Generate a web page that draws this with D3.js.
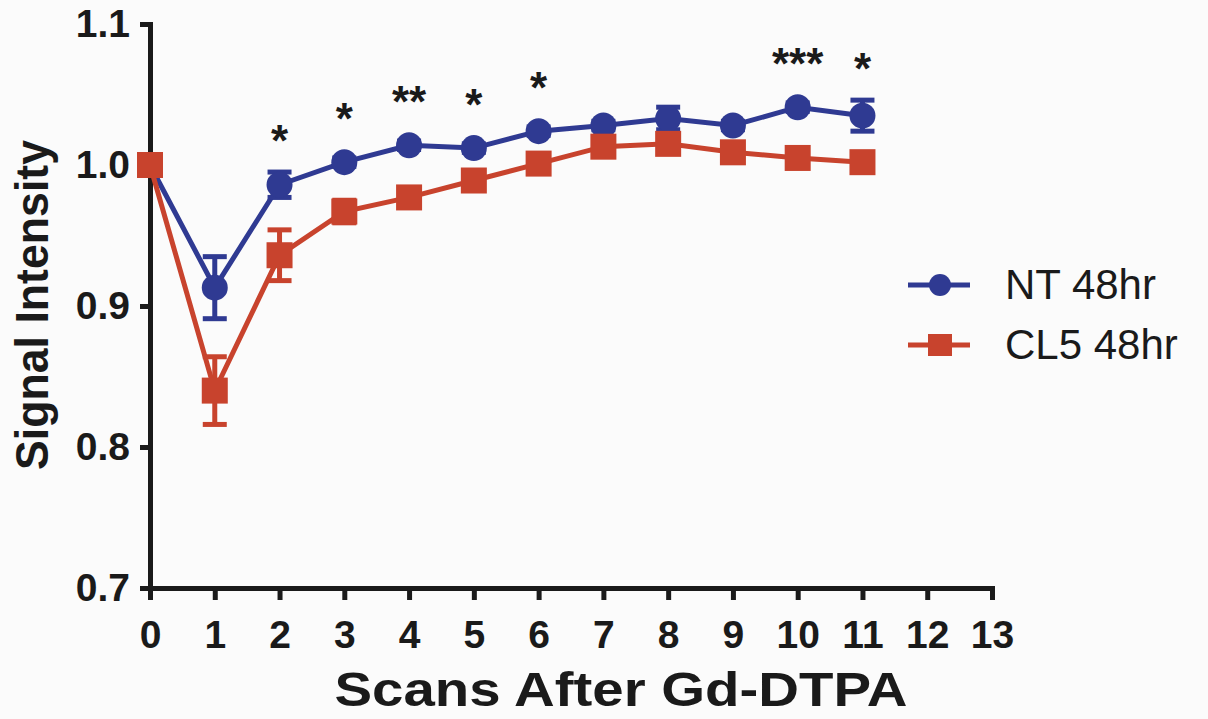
<!DOCTYPE html>
<html lang="en">
<head>
  <meta charset="UTF-8">
  <title>Signal Intensity after Gd-DTPA</title>
  <script src="https://cdn.jsdelivr.net/npm/d3@7"></script>
  <style>
    body { margin: 0; background: #fbfbfb; }
    svg text { font-family: Arial, "Liberation Sans", sans-serif; fill: #1a1a1a; }
    .axis text { font-size: 39px; font-weight: bold; }
  </style>
</head>
<body>
  <script>
    // scan number after contrast injection
    var scans = [0, 1, 2, 3, 4, 5, 6, 7, 8, 9, 10, 11];

    // NT 48hr - mean and SEM
    var ntMean = [1.000, 0.913, 0.986, 1.002, 1.014, 1.012, 1.024, 1.028, 1.033, 1.028, 1.041, 1.035];
    var ntErr  = [0.000, 0.022, 0.009, 0.003, 0.003, 0.003, 0.003, 0.003, 0.008, 0.003, 0.003, 0.011];

    // CL5 48hr - mean and SEM
    var clMean = [1.000, 0.840, 0.936, 0.967, 0.977, 0.989, 1.001, 1.013, 1.015, 1.009, 1.005, 1.002];
    var clErr  = [0.000, 0.024, 0.018, 0.008, 0.007, 0.003, 0.003, 0.003, 0.006, 0.003, 0.003, 0.003];

    // significance marks above each scan
    var sigMarks = ["", "", "*", "*", "**", "*", "*", "", "", "", "***", "*"];

    var yTicks = [0.7, 0.8, 0.9, 1.0, 1.1];
    var xTicks = d3.range(0, 14);

    var blue = "#2f3a92",
        red = "#c8432d";

    var width = 1208, height = 719;

    var svg = d3.select("body").append("svg")
      .attr("width", width)
      .attr("height", height);

    var x = d3.scaleLinear().domain([0, 13]).range([150, 992]);
    var y = d3.scaleLinear().domain([0.7, 1.1]).range([588, 24]);

    function styleAxis(g) {
      g.selectAll("path, line").attr("stroke", "#1a1a1a").attr("stroke-width", 5);
      g.select(".domain").attr("stroke-linecap", "square");
      g.selectAll("text").attr("fill", "#1a1a1a");
    }

    // axes
    svg.append("g")
      .attr("class", "axis")
      .attr("transform", "translate(0,588)")
      .call(d3.axisBottom(x).tickValues(xTicks).tickSize(12).tickSizeOuter(0).tickPadding(20))
      .call(styleAxis);

    svg.append("g")
      .attr("class", "axis")
      .attr("transform", "translate(150,0)")
      .call(d3.axisLeft(y).tickValues(yTicks).tickFormat(d3.format(".1f")).tickSize(10).tickSizeOuter(0).tickPadding(10))
      .call(styleAxis);

    // axis titles
    svg.append("text")
      .attr("x", 621).attr("y", 706)
      .attr("text-anchor", "middle")
      .attr("textLength", 573).attr("lengthAdjust", "spacingAndGlyphs")
      .style("font-size", "49px").style("font-weight", "bold")
      .text("Scans After Gd-DTPA");

    svg.append("text")
      .attr("transform", "translate(48,305) rotate(-90)")
      .attr("text-anchor", "middle")
      .attr("textLength", 330).attr("lengthAdjust", "spacingAndGlyphs")
      .style("font-size", "46px").style("font-weight", "bold")
      .text("Signal Intensity");

    function drawSeries(mean, err, color, shape) {
      var pts = scans.map(function(s, i) { return { x: s, m: mean[i], e: err[i] }; });
      var g = svg.append("g");

      g.append("path")
        .datum(pts)
        .attr("fill", "none")
        .attr("stroke", color)
        .attr("stroke-width", 5)
        .attr("d", d3.line().x(function(d) { return x(d.x); }).y(function(d) { return y(d.m); }));

      var eb = g.selectAll(".eb").data(pts.filter(function(d) { return d.e > 0; }))
        .enter().append("g").attr("stroke", color).attr("stroke-width", 5);
      eb.append("line")
        .attr("x1", function(d) { return x(d.x); }).attr("x2", function(d) { return x(d.x); })
        .attr("y1", function(d) { return y(d.m - d.e); }).attr("y2", function(d) { return y(d.m + d.e); });
      [1, -1].forEach(function(sgn) {
        eb.append("line")
          .attr("x1", function(d) { return x(d.x) - 12; }).attr("x2", function(d) { return x(d.x) + 12; })
          .attr("y1", function(d) { return y(d.m + sgn * d.e); }).attr("y2", function(d) { return y(d.m + sgn * d.e); });
      });

      if (shape === "circle") {
        g.selectAll("circle").data(pts).enter().append("circle")
          .attr("cx", function(d) { return x(d.x); })
          .attr("cy", function(d) { return y(d.m); })
          .attr("r", 13)
          .attr("fill", color);
      } else {
        g.selectAll("rect").data(pts).enter().append("rect")
          .attr("x", function(d) { return x(d.x) - 13; })
          .attr("y", function(d) { return y(d.m) - 13; })
          .attr("width", 26).attr("height", 26)
          .attr("fill", color);
      }
    }

    drawSeries(ntMean, ntErr, blue, "circle");
    drawSeries(clMean, clErr, red, "square");

    // significance asterisks
    svg.selectAll(".sig")
      .data(scans.filter(function(s, i) { return sigMarks[i] !== ""; }))
      .enter().append("text")
      .attr("class", "sig")
      .attr("x", function(s) { return x(s); })
      .attr("y", function(s) {
        var top = Math.min(y(ntMean[s] + ntErr[s]), y(ntMean[s]) - 12);
        return top - 42 + 26;
      })
      .attr("text-anchor", "middle")
      .style("font-size", "44px").style("font-weight", "bold")
      .text(function(s) { return sigMarks[s]; });

    // legend
    var legend = svg.append("g").attr("transform", "translate(908,285)");
    var items = [
      { name: "NT 48hr", color: blue, shape: "circle" },
      { name: "CL5 48hr", color: red, shape: "square" }
    ];
    var li = legend.selectAll("g").data(items).enter().append("g")
      .attr("transform", function(d, i) { return "translate(0," + i * 60 + ")"; });
    li.append("line").attr("x1", 0).attr("x2", 62).attr("stroke", function(d) { return d.color; }).attr("stroke-width", 5);
    li.filter(function(d) { return d.shape === "circle"; }).append("circle")
      .attr("cx", 32).attr("r", 11).attr("fill", function(d) { return d.color; });
    li.filter(function(d) { return d.shape === "square"; }).append("rect")
      .attr("x", 20).attr("y", -11).attr("width", 24).attr("height", 22).attr("fill", function(d) { return d.color; });
    li.append("text")
      .attr("x", 97).attr("y", 14)
      .style("font-size", "42px")
      .text(function(d) { return d.name; });
  </script>
</body>
</html>
